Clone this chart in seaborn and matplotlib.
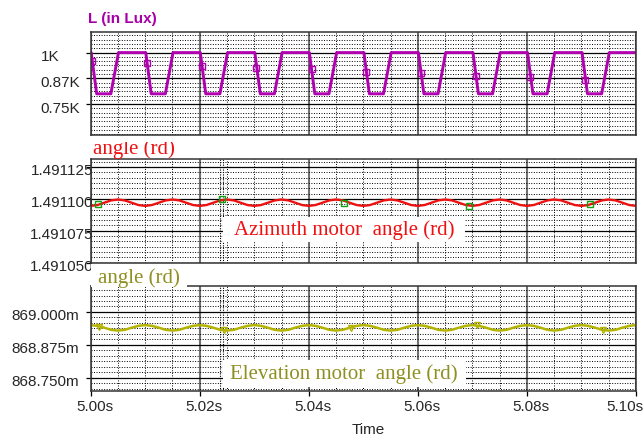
import matplotlib
matplotlib.use("Agg")
import matplotlib.pyplot as plt
import matplotlib.ticker as mticker
import matplotlib.transforms as mtrans
from matplotlib.patches import Rectangle
import seaborn as sns

# light level (in K lux): corner points of the clipped wave
lux_t = [5.0000,
         5.0001, 5.0011, 5.0037, 5.0051,
         5.0101, 5.0111, 5.0137, 5.0151,
         5.0201, 5.0211, 5.0237, 5.0251,
         5.0301, 5.0311, 5.0337, 5.0351,
         5.0401, 5.0411, 5.0437, 5.0451,
         5.0501, 5.0511, 5.0537, 5.0551,
         5.0601, 5.0611, 5.0637, 5.0651,
         5.0701, 5.0711, 5.0737, 5.0751,
         5.0801, 5.0811, 5.0837, 5.0851,
         5.0901, 5.0911, 5.0937, 5.0951,
         5.1000]
lux_k = [1.0,
         1.0, 0.8, 0.8, 1.0,
         1.0, 0.8, 0.8, 1.0,
         1.0, 0.8, 0.8, 1.0,
         1.0, 0.8, 0.8, 1.0,
         1.0, 0.8, 0.8, 1.0,
         1.0, 0.8, 0.8, 1.0,
         1.0, 0.8, 0.8, 1.0,
         1.0, 0.8, 0.8, 1.0,
         1.0, 0.8, 0.8, 1.0,
         1.0, 0.8, 0.8, 1.0,
         1.0]
lux_mark_t = [5.0003, 5.0103, 5.0204, 5.0304, 5.0405, 5.0505, 5.0606, 5.0706, 5.0806, 5.0907]
lux_mark_k = [0.958, 0.950, 0.936, 0.926, 0.918, 0.907, 0.900, 0.888, 0.880, 0.867]
lux_ticks = [0.75, 0.875, 1.0]
lux_tick_labels = ["0.75K", "0.87K", "1K"]

# sample times of the two motor angle traces
angle_t = [5.00000, 5.00125, 5.00250, 5.00375, 5.00500, 5.00625, 5.00750, 5.00875,
           5.01000, 5.01125, 5.01250, 5.01375, 5.01500, 5.01625, 5.01750, 5.01875,
           5.02000, 5.02125, 5.02250, 5.02375, 5.02500, 5.02625, 5.02750, 5.02875,
           5.03000, 5.03125, 5.03250, 5.03375, 5.03500, 5.03625, 5.03750, 5.03875,
           5.04000, 5.04125, 5.04250, 5.04375, 5.04500, 5.04625, 5.04750, 5.04875,
           5.05000, 5.05125, 5.05250, 5.05375, 5.05500, 5.05625, 5.05750, 5.05875,
           5.06000, 5.06125, 5.06250, 5.06375, 5.06500, 5.06625, 5.06750, 5.06875,
           5.07000, 5.07125, 5.07250, 5.07375, 5.07500, 5.07625, 5.07750, 5.07875,
           5.08000, 5.08125, 5.08250, 5.08375, 5.08500, 5.08625, 5.08750, 5.08875,
           5.09000, 5.09125, 5.09250, 5.09375, 5.09500, 5.09625, 5.09750, 5.09875,
           5.10000]

# azimuth motor angle (rd)
az_angle = [1.4910945, 1.4910952, 1.4910970, 1.4910988, 1.4910995, 1.4910988, 1.4910970, 1.4910952,
            1.4910945, 1.4910952, 1.4910970, 1.4910988, 1.4910995, 1.4910988, 1.4910970, 1.4910952,
            1.4910945, 1.4910952, 1.4910970, 1.4910988, 1.4910995, 1.4910988, 1.4910970, 1.4910952,
            1.4910945, 1.4910952, 1.4910970, 1.4910988, 1.4910995, 1.4910988, 1.4910970, 1.4910952,
            1.4910945, 1.4910952, 1.4910970, 1.4910988, 1.4910995, 1.4910988, 1.4910970, 1.4910952,
            1.4910945, 1.4910952, 1.4910970, 1.4910988, 1.4910995, 1.4910988, 1.4910970, 1.4910952,
            1.4910945, 1.4910952, 1.4910970, 1.4910988, 1.4910995, 1.4910988, 1.4910970, 1.4910952,
            1.4910945, 1.4910952, 1.4910970, 1.4910988, 1.4910995, 1.4910988, 1.4910970, 1.4910952,
            1.4910945, 1.4910952, 1.4910970, 1.4910988, 1.4910995, 1.4910988, 1.4910970, 1.4910952,
            1.4910945, 1.4910952, 1.4910970, 1.4910988, 1.4910995, 1.4910988, 1.4910970, 1.4910952,
            1.4910945]
az_mark_t = [5.0014, 5.0240, 5.0465, 5.0693, 5.0916]
az_mark_v = [1.4910961, 1.4911000, 1.4910969, 1.4910943, 1.4910963]
az_ticks = [1.491050, 1.491075, 1.491100, 1.491125]

# elevation motor angle (milli rd)
el_angle = [868.950, 868.947, 868.940, 868.932, 868.929, 868.932, 868.940, 868.947,
            868.950, 868.947, 868.940, 868.932, 868.929, 868.932, 868.940, 868.947,
            868.950, 868.947, 868.940, 868.932, 868.929, 868.932, 868.940, 868.947,
            868.950, 868.947, 868.940, 868.932, 868.929, 868.932, 868.940, 868.947,
            868.950, 868.947, 868.940, 868.932, 868.929, 868.932, 868.940, 868.947,
            868.950, 868.947, 868.940, 868.932, 868.929, 868.932, 868.940, 868.947,
            868.950, 868.947, 868.940, 868.932, 868.929, 868.932, 868.940, 868.947,
            868.950, 868.947, 868.940, 868.932, 868.929, 868.932, 868.940, 868.947,
            868.950, 868.947, 868.940, 868.932, 868.929, 868.932, 868.940, 868.947,
            868.950, 868.947, 868.940, 868.932, 868.929, 868.932, 868.940, 868.947,
            868.950]
el_mark_t = [5.0015, 5.0245, 5.0477, 5.0708, 5.0939]
el_mark_v = [868.9435, 868.933, 868.940, 868.952, 868.933]
el_ticks = [868.750, 868.875, 869.000]

time_ticks = [5.00, 5.02, 5.04, 5.06, 5.08, 5.10]
time_tick_labels = ["5.00s", "5.02s", "5.04s", "5.06s", "5.08s", "5.10s"]
cursor_t = [5.0238, 5.0243]

MAGENTA = "#b000b0"
RED = "#ee1111"
OLIVE = "#b4b400"
OLIVE_TXT = "#8f8f22"
GREEN = "#10a010"

sns.set_style("white")
plt.rcParams["font.family"] = ["Liberation Sans", "DejaVu Sans"]
SERIF = ["Liberation Serif", "DejaVu Serif"]

fig = plt.figure(figsize=(6.44, 4.36), dpi=100)
ax1 = fig.add_axes([0.1408, 0.6904, 0.8468, 0.2362])
ax2 = fig.add_axes([0.1408, 0.3975, 0.8468, 0.2371], sharex=ax1)
ax3 = fig.add_axes([0.1408, 0.1039, 0.8468, 0.2408], sharex=ax1)

ax1.set_xlim(5.0, 5.1)
ax1.set_xticks(time_ticks)
ax1.xaxis.set_minor_locator(mticker.MultipleLocator(0.005))

down = mtrans.ScaledTranslation(0, -3 / 100, fig.dpi_scale_trans)


def style_panel(ax, ylim, yticks, ylabels, pad, ha):
    ax.set_ylim(*ylim)
    ax.set_yticks(yticks, ylabels)
    ax.yaxis.set_minor_locator(mticker.AutoMinorLocator(6))
    ax.set_axisbelow(True)
    ax.grid(which="major", axis="y", color="black", lw=0.9, ls="-")
    ax.grid(which="major", axis="x", color="#707070", lw=1.5, ls="-")
    ax.grid(which="minor", color="black", lw=0.7, ls=(0, (1, 1.6)))
    ax.tick_params(which="minor", length=0)
    ax.tick_params(axis="y", which="major", direction="out", length=3.5, width=0.9,
                   color="black", left=True, labelsize=11, pad=pad)
    for lab in ax.get_yticklabels():
        lab.set_ha(ha)
        lab.set_transform(lab.get_transform() + down)
    for s in ax.spines.values():
        s.set_color("#333333")
        s.set_linewidth(1.1)


style_panel(ax1, (0.60, 1.10), lux_ticks, lux_tick_labels, 32.5, "left")
style_panel(ax2, (1.49105, 1.491131), az_ticks, [f"{v:.6f}" for v in az_ticks], -5.4, "right")
style_panel(ax3, (868.70, 869.10), el_ticks, [f"{v:.3f}m" for v in el_ticks], 4.9, "right")

for ax in (ax1, ax2):
    ax.tick_params(axis="x", which="both", bottom=False, labelbottom=False)
ax3.set_xticks(time_ticks, time_tick_labels)
ax3.tick_params(axis="x", which="major", direction="out", length=3.5, width=0.9,
                color="black", bottom=True, labelsize=11, pad=3)
shift = mtrans.ScaledTranslation(4 / 100, 0, fig.dpi_scale_trans)
xlabs = ax3.get_xticklabels()
for lab in xlabs:
    lab.set_transform(lab.get_transform() + shift)
xlabs[-1].set_ha("right")
xlabs[-1].set_transform(xlabs[-1].get_transform()
                        + mtrans.ScaledTranslation(3 / 100, 0, fig.dpi_scale_trans))
ax3.set_xlabel("Time", fontsize=11, labelpad=7)
ax3.xaxis.label.set_x(0.5085)

# traces
sns.lineplot(x=lux_t, y=lux_k, ax=ax1, color=MAGENTA, linewidth=2.1, sort=False)
ax1.plot(lux_mark_t, lux_mark_k, ls="none", marker="s", ms=4.5, mfc="none",
         mec=MAGENTA, mew=1.0)

sns.lineplot(x=angle_t, y=az_angle, ax=ax2, color=RED, linewidth=1.7, sort=False)
ax2.plot(az_mark_t, az_mark_v, ls="none", marker="s", ms=4.5, mfc="none",
         mec=GREEN, mew=1.0)

sns.lineplot(x=angle_t, y=el_angle, ax=ax3, color=OLIVE, linewidth=1.8, sort=False)
ax3.plot(el_mark_t, el_mark_v, ls="none", marker="v", ms=4.5, mfc="none",
         mec=OLIVE, mew=1.0)

for ax in (ax2, ax3):
    for t in cursor_t:
        ax.axvline(t, color="black", lw=0.8, ls=(0, (1, 1.2)), zorder=1)

# labelled white boxes inside the angle panels
ax2.add_patch(Rectangle((0.2421, 0.197), 0.4443, 0.248, transform=ax2.transAxes,
                        facecolor="white", edgecolor="none", zorder=2.5))
ax2.text(0.4642, 0.315, "Azimuth motor  angle (rd)", transform=ax2.transAxes,
         ha="center", va="center", color=RED, fontsize=15, family=SERIF, zorder=3)
ax3.add_patch(Rectangle((0.2421, 0.035), 0.4456, 0.257, transform=ax3.transAxes,
                        facecolor="white", edgecolor="none", zorder=2.5))
ax3.text(0.465, 0.158, "Elevation motor  angle (rd)", transform=ax3.transAxes,
         ha="center", va="center", color=OLIVE_TXT, fontsize=15, family=SERIF, zorder=3)

# panel titles
fig.text(88.3 / 644, 1 - 19 / 436, "L (in Lux)", color="#a800a8", fontsize=11,
         fontweight="bold", ha="left", va="center")
fig.text(93.3 / 644, 1 - 154 / 436, "angle (rd)", color=RED, fontsize=15,
         family=SERIF, ha="left", va="baseline", zorder=3)
fig.patches.append(Rectangle((91 / 644, 1 - 142 / 436), 90 / 644, 5.5 / 436,
                             transform=fig.transFigure, facecolor="white",
                             edgecolor="none", zorder=4))
fig.patches.append(Rectangle((91 / 644, 1 - 287 / 436), 96 / 644, 23.5 / 436,
                             transform=fig.transFigure, facecolor="white",
                             edgecolor="none", zorder=2))
fig.text(97.7 / 644, 1 - 282.7 / 436, "angle (rd)", color=OLIVE_TXT, fontsize=15,
         family=SERIF, ha="left", va="baseline", zorder=3)

fig.savefig("out.png", dpi=100)
